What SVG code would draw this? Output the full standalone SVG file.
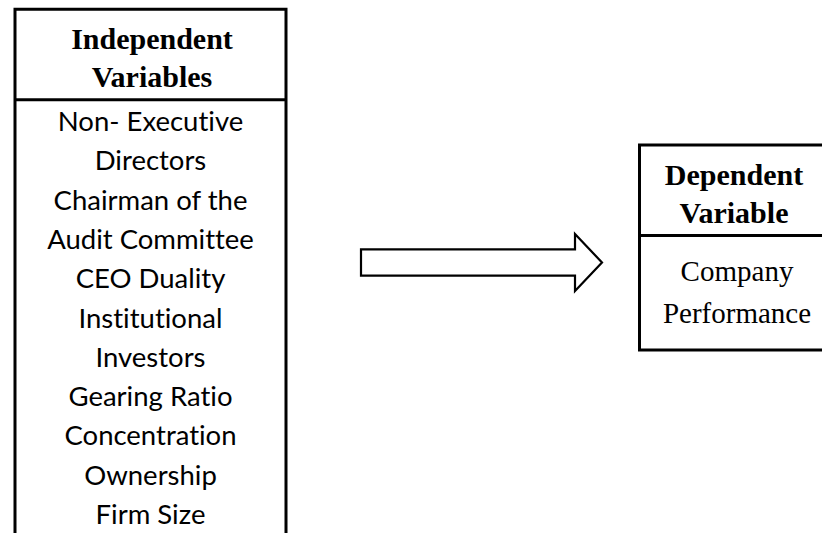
<svg xmlns="http://www.w3.org/2000/svg" width="822" height="533" viewBox="0 0 822 533">
<style>
.box{fill:#fff;stroke:#000;stroke-width:3}
.ln{stroke:#000;stroke-width:3;fill:none}
.hd{font-family:"Liberation Serif","Times New Roman",serif;font-weight:bold;font-size:30px;fill:#000;text-anchor:middle}
.bd{font-family:Lato,"Open Sans",sans-serif;font-size:27.5px;fill:#000;text-anchor:middle;font-variant-ligatures:none}
.rb{font-family:"Liberation Serif","Times New Roman",serif;font-size:29px;fill:#000;text-anchor:middle}
.arr{fill:#fff;stroke:#000;stroke-width:2.2;stroke-linejoin:miter}
</style>
<rect width="822" height="533" fill="#fff"/>
<g id="independent">
<path class="ln" d="M15,545 V9.3 H286 V545"/>
<line class="ln" x1="15" y1="99.7" x2="286" y2="99.7"/>
<text class="hd" x="152" y="49.3">Independent</text>
<text class="hd" x="152" y="87.3">Variables</text>
<text class="bd" x="150.5" y="131">Non- Executive</text>
<text class="bd" x="150.5" y="170.3">Directors</text>
<text class="bd" x="150.5" y="209.6">Chairman of the</text>
<text class="bd" x="150.5" y="248.9">Audit Committee</text>
<text class="bd" x="150.5" y="288.2">CEO Duality</text>
<text class="bd" x="150.5" y="327.5">Institutional</text>
<text class="bd" x="150.5" y="366.8">Investors</text>
<text class="bd" x="150.5" y="406.1">Gearing Ratio</text>
<text class="bd" x="150.5" y="445.4">Concentration</text>
<text class="bd" x="150.5" y="484.7">Ownership</text>
<text class="bd" x="150.5" y="524">Firm Size</text>
</g>
<g id="connectors">
<path class="arr" d="M361,249.3 H575 V234 L602,262.5 L575,291 V275.7 H361 Z"/>
</g>
<g id="dependent">
<path class="ln" d="M830,145 H639.5 V350 H830"/>
<line class="ln" x1="639.5" y1="235.5" x2="830" y2="235.5"/>
<text class="hd" x="734" y="185">Dependent</text>
<text class="hd" x="734" y="223">Variable</text>
<text class="rb" x="737" y="281">Company</text>
<text class="rb" x="737" y="323">Performance</text>
</g>
</svg>
